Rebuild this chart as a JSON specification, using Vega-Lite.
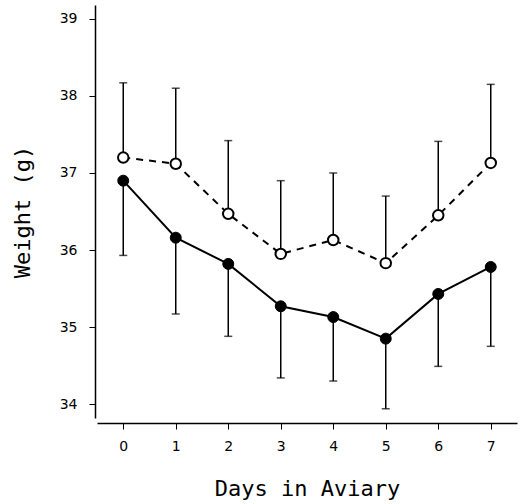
{
  "$schema": "https://vega.github.io/schema/vega-lite/v6.json",
  "autosize": {"type": "none"},
  "width": 420,
  "height": 413,
  "padding": {"left": 97, "top": 5, "right": 4, "bottom": 86},
  "background": "white",
  "config": {
    "view": {"stroke": null},
    "axis": {"grid": false, "domainColor": "black", "tickColor": "black", "labelColor": "black", "titleColor": "black", "domainWidth": 1.5, "tickWidth": 1}
  },
  "data": {"values": [
    {"day": 0, "group": "open", "mean": 37.2, "bar": 38.17},
    {"day": 1, "group": "open", "mean": 37.12, "bar": 38.1},
    {"day": 2, "group": "open", "mean": 36.47, "bar": 37.42},
    {"day": 3, "group": "open", "mean": 35.95, "bar": 36.9},
    {"day": 4, "group": "open", "mean": 36.13, "bar": 37.0},
    {"day": 5, "group": "open", "mean": 35.83, "bar": 36.7},
    {"day": 6, "group": "open", "mean": 36.45, "bar": 37.41},
    {"day": 7, "group": "open", "mean": 37.13, "bar": 38.15},
    {"day": 0, "group": "filled", "mean": 36.9, "bar": 35.93},
    {"day": 1, "group": "filled", "mean": 36.16, "bar": 35.17},
    {"day": 2, "group": "filled", "mean": 35.82, "bar": 34.88},
    {"day": 3, "group": "filled", "mean": 35.27, "bar": 34.34},
    {"day": 4, "group": "filled", "mean": 35.13, "bar": 34.3},
    {"day": 5, "group": "filled", "mean": 34.85, "bar": 33.94},
    {"day": 6, "group": "filled", "mean": 35.43, "bar": 34.49},
    {"day": 7, "group": "filled", "mean": 35.78, "bar": 34.75}
  ]},
  "encoding": {
    "x": {"field": "day", "type": "quantitative", "scale": {"domain": [-0.5, 7.5], "nice": false, "zero": false},
      "axis": {"values": [0,1,2,3,4,5,6,7], "title": "Days in Aviary", "titleFont": "DejaVu Sans Mono", "titleFontSize": 22, "titleFontWeight": "normal", "titlePadding": 25, "offset": 5, "tickSize": 6, "labelPadding": 10, "labelFont": "DejaVu Sans", "labelFontSize": 14}},
    "y": {"field": "mean", "type": "quantitative", "scale": {"domain": [33.82, 39.18], "nice": false, "zero": false},
      "axis": {"values": [34,35,36,37,38,39], "title": "Weight (g)", "titleFont": "DejaVu Sans Mono", "titleFontSize": 22, "titleFontWeight": "normal", "titlePadding": 25, "offset": 2, "tickSize": 6, "labelPadding": 12, "labelFont": "DejaVu Sans", "labelFontSize": 14}}
  },
  "layer": [
    {"mark": {"type": "rule", "color": "black", "strokeWidth": 1.5}, "encoding": {"y2": {"field": "bar"}}},
    {"mark": {"type": "tick", "orient": "horizontal", "color": "black", "size": 8, "thickness": 1.5}, "encoding": {"y": {"field": "bar", "type": "quantitative"}}},
    {"transform": [{"filter": "datum.group === 'open'"}], "mark": {"type": "line", "color": "black", "strokeWidth": 2, "strokeDash": [7, 6]}, "encoding": {}},
    {"transform": [{"filter": "datum.group === 'filled'"}], "mark": {"type": "line", "color": "black", "strokeWidth": 2}, "encoding": {}},
    {"transform": [{"filter": "datum.group === 'open'"}], "mark": {"type": "point", "shape": "circle", "filled": true, "fill": "white", "stroke": "black", "strokeWidth": 2, "size": 110, "opacity": 1}, "encoding": {}},
    {"transform": [{"filter": "datum.group === 'filled'"}], "mark": {"type": "point", "shape": "circle", "filled": true, "fill": "black", "stroke": "black", "strokeWidth": 1, "size": 120, "opacity": 1}, "encoding": {}}
  ]
}
